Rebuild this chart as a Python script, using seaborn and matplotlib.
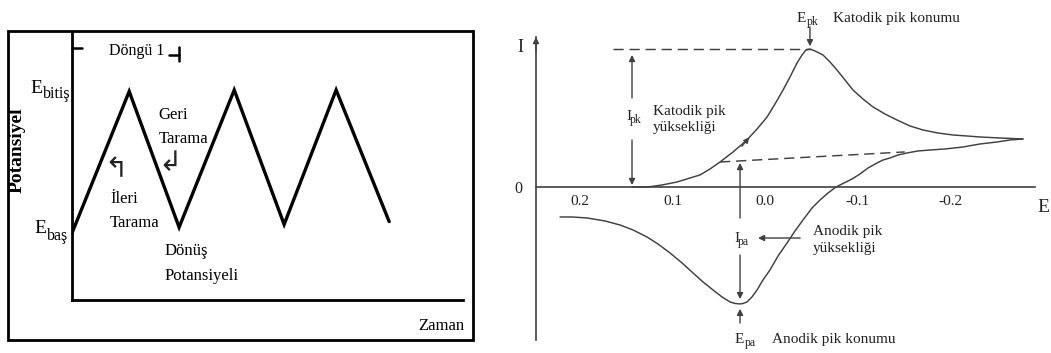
import matplotlib
matplotlib.use("Agg")
import matplotlib.pyplot as plt
import matplotlib.patches as mpatches
import seaborn as sns

# ---- triangular potential waveform (left) ----
time_s = [0.0, 1.10, 2.06, 3.12, 4.08, 5.08, 6.10]
potential = [0.0, 0.99, 0.04, 1.0, 0.06, 1.0, 0.08]

# ---- cyclic voltammogram (right) ----
# forward (cathodic) sweep
fwd_E = [0.1438, 0.1265, 0.1114, 0.0951, 0.0811, 0.0703, 0.0595, 0.0486, 0.0346, 0.0195,
         0.0086, -0.0022, -0.0108, -0.0195, -0.0270, -0.0346, -0.0400, -0.0443, -0.0486, -0.0541,
         -0.0627, -0.0703, -0.0778, -0.0865, -0.0951, -0.1059, -0.1168, -0.1297, -0.1427, -0.1568,
         -0.1708, -0.1870, -0.2032, -0.2184, -0.2324, -0.2541, -0.2789]
fwd_I = [0.0, 0.0, 0.145, 0.362, 0.652, 0.870, 1.304, 1.812, 2.536, 3.406,
         4.203, 5.072, 6.014, 7.029, 7.971, 8.986, 9.565, 9.928, 10.0, 9.855,
         9.565, 9.058, 8.478, 7.754, 7.029, 6.377, 5.797, 5.290, 4.855, 4.420,
         4.130, 3.913, 3.768, 3.696, 3.623, 3.551, 3.478]
# reverse (anodic) sweep
rev_E = [-0.2789, -0.2649, -0.2508, -0.2324, -0.2141, -0.1946, -0.1784, -0.1654, -0.1535, -0.1438,
         -0.1351, -0.1276, -0.1211, -0.1114, -0.1027, -0.0941, -0.0854, -0.0768, -0.0681, -0.0595,
         -0.0508, -0.0411, -0.0324, -0.0238, -0.0141, -0.0054, 0.0022, 0.0086, 0.0141, 0.0195,
         0.0238, 0.0270, 0.0324, 0.0378, 0.0465, 0.0562, 0.0670, 0.0778, 0.0897, 0.1027,
         0.1157, 0.1276, 0.1427, 0.1568, 0.1730, 0.1924, 0.2086, 0.2216]
rev_I = [3.478, 3.406, 3.261, 3.116, 2.899, 2.754, 2.681, 2.609, 2.464, 2.319,
         2.101, 1.957, 1.739, 1.377, 0.942, 0.580, 0.290, 0.0, -0.435, -0.942,
         -1.522, -2.391, -3.188, -4.058, -5.0, -6.014, -6.739, -7.464, -7.971, -8.333,
         -8.442, -8.478, -8.442, -8.333, -7.971, -7.464, -6.884, -6.232, -5.507, -4.783,
         -4.130, -3.623, -3.116, -2.754, -2.464, -2.246, -2.174, -2.174]
# extrapolated charging-current baseline
base_E = [0.0486, -0.151]
base_I = [1.812, 2.54]
tick_E = [0.2, 0.1, 0.0, -0.1, -0.2]
tick_lbl = ["0.2", "0.1", "0.0", "-0.1", "-0.2"]

sns.set_style("white")
plt.rcParams["font.family"] = ["Liberation Serif", "DejaVu Serif"]

W, H = 1051, 353
fig = plt.figure(figsize=(W / 100, H / 100), dpi=100)


def frect(x0, y0, x1, y1):
    return [x0 / W, 1 - y1 / H, (x1 - x0) / W, (y1 - y0) / H]


def ftext(px, py, s, **kw):
    kw.setdefault("va", "baseline")
    kw.setdefault("ha", "left")
    return fig.text(px / W, 1 - py / H, s, **kw)


# outer frame around the waveform panel
fig.add_artist(mpatches.Rectangle((8 / W, 1 - 340 / H), (473 - 8) / W, (340 - 31) / H,
                                  transform=fig.transFigure, fill=False,
                                  lw=2.0, ec="black"))

# ---------------- left panel ----------------
axL = fig.add_axes(frect(72, 32, 463, 300))
sns.lineplot(x=time_s, y=potential, ax=axL, color="black", lw=2.4, sort=False,
             estimator=None, solid_capstyle="round", solid_joinstyle="miter")
axL.set_xlim(0, 7.52)
axL.set_ylim(-0.4685, 1.4056)
axL.set_xticks([])
axL.set_yticks([])
axL.set_xlabel("")
axL.set_ylabel("")
for side in ("top", "right"):
    axL.spines[side].set_visible(False)
for side in ("left", "bottom"):
    axL.spines[side].set_color("black")
    axL.spines[side].set_linewidth(2.0)
axL.patch.set_alpha(0)

# bracket marking the first cycle
cyc_end = time_s[2]
axL.plot([0, 0.19], [1.294, 1.294], color="black", lw=1.8, clip_on=False)
axL.plot([cyc_end - 0.2, cyc_end], [1.245, 1.245], color="black", lw=1.8, clip_on=False)
axL.plot([cyc_end, cyc_end], [1.30, 1.20], color="black", lw=1.8, clip_on=False)

tk = dict(color="black", fontsize=12)
ftext(109, 55, "Döngü 1", color="black", fontsize=11.5)
ftext(30, 93, "E", fontsize=14, color="black")
ftext(43, 98, "bitiş", color="black", fontsize=11.5)
ftext(34, 233, "E", fontsize=14, color="black")
ftext(47, 240, "baş", color="black", fontsize=11.5)
fig.text(17 / W, 1 - 150 / H, "Potansiyel", rotation=90, ha="center", va="center",
         fontsize=14, fontweight="bold", color="black")
ftext(110, 203, "İleri", **tk)
ftext(110, 227, "Tarama", **tk)
ftext(158, 119, "Geri", **tk)
ftext(159, 143, "Tarama", **tk)
ftext(165, 255, "Dönüş", **tk)
ftext(165, 280, "Potansiyeli", **tk)
ftext(418, 330, "Zaman", **tk)
ftext(116, 169, "↰", family=["DejaVu Sans"], fontsize=20, color="#222",
      ha="center", va="center")
ftext(170, 163, "↲", family=["DejaVu Sans"], fontsize=20, color="#222",
      ha="center", va="center")

# ---------------- right panel ----------------
lc = "#404040"
axR = fig.add_axes(frect(536, 37, 1035, 340))
sns.lineplot(x=fwd_E, y=fwd_I, ax=axR, color=lc, lw=1.05, sort=False, estimator=None)
sns.lineplot(x=rev_E, y=rev_I, ax=axR, color=lc, lw=1.05, sort=False, estimator=None)
sns.lineplot(x=base_E, y=base_I, ax=axR, color=lc, lw=1.05, sort=False, estimator=None,
             linestyle=(0, (7, 4)))
axR.set_xlim(0.2476, -0.2919)
axR.set_ylim(-11.09, 10.87)
axR.set_xlabel("")
axR.set_ylabel("")
axR.patch.set_alpha(0)
for side in ("top", "right"):
    axR.spines[side].set_visible(False)
axR.spines["bottom"].set_position(("data", 0))
for side in ("left", "bottom"):
    axR.spines[side].set_color(lc)
    axR.spines[side].set_linewidth(1.2)
axR.set_xticks(tick_E)
axR.set_xticklabels(tick_lbl)
axR.tick_params(axis="x", direction="in", length=5, width=1.1, color=lc,
                labelsize=11, labelcolor="#222", pad=6)
axR.set_yticks([0])
axR.set_yticklabels(["0"])
axR.tick_params(axis="y", length=0, labelsize=11.5, labelcolor="#222", pad=10)

arrow_kw = dict(arrowstyle="-|>", color=lc, lw=1.0, mutation_scale=9,
                shrinkA=0, shrinkB=0)
# I axis arrow
axR.annotate("", xy=(0, 1.0), xycoords="axes fraction", xytext=(0, 0.95),
             arrowprops=arrow_kw, annotation_clip=False)

# peak positions from the data
i_pk = max(range(len(fwd_I)), key=lambda i: fwd_I[i])
E_pk, I_pk = fwd_E[i_pk], fwd_I[i_pk]
i_pa = min(range(len(rev_I)), key=lambda i: rev_I[i])
E_pa, I_pa = rev_E[i_pa], rev_I[i_pa]

# dashed line level with the cathodic peak
axR.plot([0.164, E_pk], [I_pk, I_pk], color=lc, lw=1.05, ls=(0, (7, 4)))

# I_pk height arrows
x_ipk = fwd_E[0]
axR.annotate("", xy=(x_ipk, 9.57), xytext=(x_ipk, 6.45), arrowprops=arrow_kw)
axR.annotate("", xy=(x_ipk, 0.14), xytext=(x_ipk, 3.41), arrowprops=arrow_kw)
# I_pa height arrows
axR.annotate("", xy=(E_pa, 1.74), xytext=(E_pa, -2.25), arrowprops=arrow_kw)
axR.annotate("", xy=(E_pa, I_pa + 0.35), xytext=(E_pa, -4.93), arrowprops=arrow_kw)
# peak position arrows
axR.annotate("", xy=(E_pk, I_pk + 0.2), xytext=(E_pk, 11.6), arrowprops=arrow_kw,
             annotation_clip=False)
axR.annotate("", xy=(E_pa, I_pa - 0.35), xytext=(E_pa, -9.86), arrowprops=arrow_kw)
# pointer to I_pa label
axR.annotate("", xy=(0.0076, -3.7), xytext=(-0.038, -3.7), arrowprops=arrow_kw)
# scan direction on forward branch
axR.annotate("", xy=(0.017, 3.6), xytext=(0.025, 2.95),
             arrowprops=dict(arrowstyle="-|>", color=lc, lw=1.0, mutation_scale=8,
                             shrinkA=0, shrinkB=0))

rc = dict(color="#222", fontsize=11)
sc = dict(color="#222", fontsize=8.5)
ftext(520, 47, "I", color="#222", fontsize=13, ha="center", va="center")
ftext(1043, 207, "E", color="#222", fontsize=14, ha="center", va="center")
ftext(797, 22, "E", **rc)
ftext(807, 25, "pk", **sc)
ftext(833, 22, "Katodik pik konumu", **rc)
ftext(735, 343, "E", **rc)
ftext(745, 346, "pa", **sc)
ftext(772, 343, "Anodik pik konumu", **rc)
ftext(626, 120, "I", **rc)
ftext(630, 123, "pk", **sc)
ftext(653, 115, "Katodik pik", **rc)
ftext(653, 131, "yüksekliği", **rc)
ftext(734, 242, "I", **rc)
ftext(738, 245, "pa", **sc)
ftext(813, 235, "Anodik pik", **rc)
ftext(813, 252, "yüksekliği", **rc)

fig.savefig("out.png", dpi=100)
